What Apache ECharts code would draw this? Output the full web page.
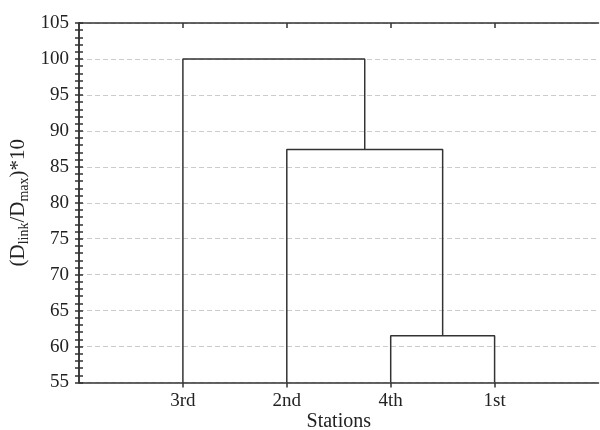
<!DOCTYPE html>
<html><head><meta charset="utf-8">
<script src="https://cdn.jsdelivr.net/npm/echarts@6/dist/echarts.min.js"></script>
<style>html,body{margin:0;padding:0;background:#fff}#c{width:600px;height:430px}</style>
</head><body><div id="c"></div>
<script>
// Data
const stations = ['3rd', '2nd', '4th', '1st'];
const yTicks = [55, 60, 65, 70, 75, 80, 85, 90, 95, 100, 105];
const baseline = 55;
// Merges (C1 = result of merge 1, C2 = result of merge 2)
const mergeA = ['4th', '2nd', '3rd'];
const mergeB = ['1st', 'C1', 'C2'];
const mergeHeight = [61.5, 87.4, 100];

const FONT = 'Liberation Serif';
const pos = {}, hgt = {};
stations.forEach((s, i) => { pos[s] = i + 1; hgt[s] = baseline; });
const series = [];
mergeA.forEach((a, i) => {
  const b = mergeB[i], h = mergeHeight[i];
  series.push({
    type: 'line', silent: true, showSymbol: false, animation: false,
    lineStyle: { color: '#333', width: 1.5 },
    data: [[pos[a], hgt[a]], [pos[a], h], [pos[b], h], [pos[b], hgt[b]]]
  });
  const c = 'C' + (i + 1);
  pos[c] = (pos[a] + pos[b]) / 2; hgt[c] = h;
});

const chart = echarts.init(document.getElementById('c'), null, { renderer: 'canvas' });
const tickVals = stations.map((s, i) => i + 1);
const tickStyle = { color: '#333', width: 1.5 };
chart.setOption({
  backgroundColor: '#fff',
  animation: false,
  grid: { left: 79, right: 1.5, top: 23, bottom: 47.5, containLabel: false, outerBoundsMode: 'none' },
  xAxis: [{
    type: 'value', min: 0, max: stations.length + 1, interval: 1, position: 'bottom',
    name: 'Stations', nameLocation: 'middle', nameGap: 29, nameMoveOverlap: false,
    nameTextStyle: { fontFamily: FONT, fontSize: 20, color: '#222', verticalAlign: 'top' },
    axisLine: { lineStyle: { color: '#333', width: 1.5 } },
    axisTick: { show: true, inside: false, length: 5, customValues: tickVals, lineStyle: tickStyle },
    axisLabel: { customValues: tickVals, formatter: v => stations[v - 1] || '', fontFamily: FONT, fontSize: 19, color: '#222', margin: 9 },
    splitLine: { show: false }
  }, {
    type: 'value', min: 0, max: stations.length + 1, interval: 1, position: 'top',
    axisLine: { lineStyle: { color: '#333', width: 1.5 } },
    axisTick: { show: true, inside: true, length: 5, customValues: tickVals, lineStyle: tickStyle },
    axisLabel: { show: false },
    splitLine: { show: false }
  }],
  yAxis: [{
    type: 'value', min: yTicks[0], max: yTicks[yTicks.length - 1], interval: yTicks[1] - yTicks[0], position: 'left',
    name: '(D{sub|link}/D{sub|max})*10', nameLocation: 'middle', nameGap: 48, nameRotate: 90, nameMoveOverlap: false,
    nameTextStyle: {
      fontFamily: FONT, fontSize: 21, color: '#222',
      rich: { sub: { fontFamily: FONT, fontSize: 14, color: '#222', padding: [12, 0, 0, 0] } }
    },
    axisLine: { show: true, lineStyle: { color: '#333', width: 1.5 } },
    axisTick: { show: true, inside: true, length: 4, lineStyle: tickStyle },
    minorTick: { show: true, splitNumber: 5, length: 4, lineStyle: tickStyle },
    axisLabel: { fontFamily: FONT, fontSize: 19, color: '#222', margin: 10 },
    splitLine: { show: true, lineStyle: { color: '#ccc', type: [5, 3], width: 1 } },
    minorSplitLine: { show: false }
  }, {
    type: 'value', min: yTicks[0], max: yTicks[yTicks.length - 1], interval: yTicks[1] - yTicks[0], position: 'right',
    axisLine: { show: true, lineStyle: { color: '#333', width: 1.5 } },
    axisTick: { show: true, inside: true, length: 4, lineStyle: tickStyle },
    minorTick: { show: true, splitNumber: 5, length: 4, lineStyle: tickStyle },
    axisLabel: { show: false },
    splitLine: { show: false }
  }],
  series: series
});
</script></body></html>
